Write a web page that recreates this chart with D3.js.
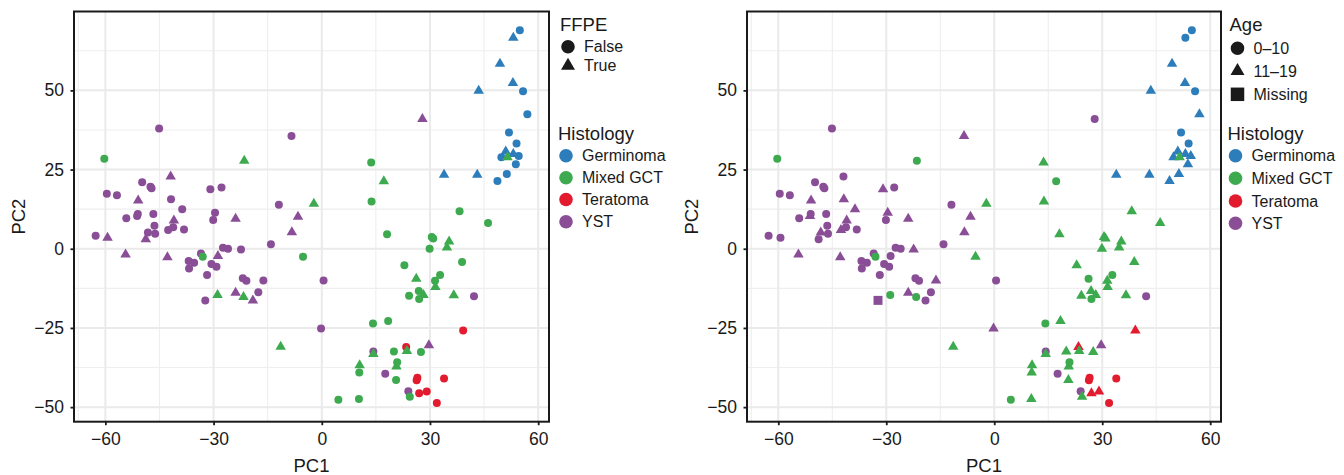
<!DOCTYPE html>
<html>
<head>
<meta charset="utf-8">
<script src="https://cdn.jsdelivr.net/npm/d3@7"></script>
<style>
body { margin: 0; background: #fff; }
text { font-family: "Liberation Sans", Arial, Helvetica, sans-serif; }
</style>
</head>
<body>
<svg id="chart" width="1344" height="475"></svg>
<script>
// PCA scores, one value per sample
var pc1 = [
  -45.1, -8.4, -60.3, -21.5, -41.9, -49.8, -47.5, -47.2, -59.6, -56.8,
  -30.9, -27.8, -50.9, -41.8, -38.7, -2.2, -11.9, -29.6, -30.1, -23.9,
  -6.6, -8.3, -54.2, -51.2, -51.0, -46.7, -41.0, -46.4, -48.2, -46.2,
  -48.8, -42.6, -41.2, -38.2, -62.7, -59.4, -54.4, -42.8, -27.4, -26.0,
  -22.4, -14.1, -5.2, -33.5, -33.0, -28.8, -36.9, -35.4, -36.8, -30.6,
  -29.2, -31.8, -21.9, -20.9, -16.2, 0.5, -28.9, -23.9, -21.7, -19.1,
  -17.6, -32.3,
  54.9, 53.1, 49.4, 53.0, 55.8, 43.5, 57.0, 27.9, 51.9, 54.0,
  51.0, 53.1, 49.8, 54.6, 53.8, 51.3, 48.7, 33.9, 43.1, 51.5,
  13.7, 17.2, 13.8,
  38.2, 46.1, 18.1, 30.5, 30.9, 35.3, 34.7, 29.9, 22.9, 38.9,
  26.2, 31.4, 32.8, 31.5, 26.9, 27.0, 24.2, 28.2, 36.6, 42.2,
  -0.2, 14.2, 18.4, 39.2, 23.4, 29.7, 14.3, 14.3, 20.0, 23.6,
  27.5, 20.9, 20.7, 10.5, 10.4, 17.6, 20.6, 26.5, 26.3, 33.9,
  24.0, 24.4, 27.0, 29.1, 31.9, 4.6, 10.3, -11.4
];
var pc2 = [
  38.0, 35.6, 28.4, 27.8, 22.8, 21.0, 19.6, 19.1, 17.4, 16.9,
  18.8, 19.3, 15.2, 15.6, 12.5, 14.2, 13.9, 11.4, 9.1, 9.5,
  10.1, 5.2, 9.6, 10.3, 11.0, 11.0, 8.9, 7.3, 5.1, 4.7,
  3.0, 5.9, 6.8, 6.1, 4.1, 3.5, -1.8, -2.7, 0.3, 0.0,
  -0.2, 1.4, -2.5, -1.5, -2.5, -2.3, -3.9, -4.4, -6.2, -4.8,
  -5.7, -8.3, -9.3, -10.1, -10.0, -10.0, -14.6, -13.9, -15.2, -16.3,
  -13.7, -16.3,
  69.0, 66.6, 58.4, 52.3, 49.7, 49.9, 42.5, 41.0, 36.7, 33.2,
  30.7, 29.9, 28.9, 29.3, 26.7, 23.6, 21.4, 23.4, 23.4, 28.9,
  27.2, 21.3, 14.9,
  11.8, 8.1, 4.6, 3.7, 3.2, 2.3, 0.4, 0.0, -5.2, -4.2,
  -9.5, -10.1, -8.3, -12.1, -13.3, -15.9, -14.8, -14.6, -14.7, -15.0,
  -25.2, -23.6, -22.8, -25.8, -31.0, -30.5, -32.4, -33.2, -32.4, -32.3,
  -32.6, -35.8, -37.2, -36.8, -39.1, -39.5, -41.4, -40.7, -41.5, -41.0,
  -45.0, -46.7, -45.6, -45.1, -48.7, -47.7, -47.4, -30.9
];
// G = Germinoma, M = Mixed GCT, T = Teratoma, Y = YST
var histology = [
  "Y","Y","M","M","Y","Y","Y","Y","Y","Y",
  "Y","Y","Y","Y","Y","M","Y","Y","Y","Y",
  "Y","Y","Y","Y","Y","Y","Y","Y","Y","Y",
  "Y","Y","Y","Y","Y","Y","Y","Y","Y","Y",
  "Y","Y","M","Y","M","Y","Y","Y","Y","Y",
  "Y","Y","Y","Y","Y","Y","M","Y","M","Y",
  "Y","Y",
  "G","G","G","G","G","G","G","Y","G","G",
  "G","G","G","G","G","G","G","G","G","M",
  "M","M","M",
  "M","M","M","M","M","M","M","M","M","M",
  "M","M","M","M","M","M","M","M","M","Y",
  "Y","M","M","T","T","Y","Y","M","M","M",
  "M","M","M","M","M","Y","M","T","T","T",
  "Y","M","T","T","T","M","M","M"
];
// F = False, T = True
var ffpe = [
  "F","F","F","T","T","F","F","F","F","F",
  "F","F","T","F","F","T","F","F","F","T",
  "T","T","F","F","F","F","T","F","F","F",
  "T","F","F","F","F","T","T","T","F","F",
  "F","F","F","F","F","T","F","F","F","F",
  "F","F","F","F","F","F","T","T","T","T",
  "F","F",
  "F","T","T","T","F","T","F","T","F","F",
  "T","T","F","F","F","F","F","T","T","T",
  "F","T","F",
  "F","F","F","F","F","T","T","F","F","F",
  "T","F","F","T","F","F","F","T","T","F",
  "F","F","F","F","F","T","F","T","F","T",
  "F","F","T","T","F","F","F","F","F","F",
  "F","F","F","F","F","F","F","T"
];
// A = 0-10, B = 11-19, M = missing
var age = [
  "A","B","A","A","A","A","A","A","A","A",
  "B","A","B","B","B","B","A","B","A","B",
  "B","B","A","B","A","A","B","A","B","A",
  "A","B","A","A","A","A","B","B","A","A",
  "B","A","B","A","A","A","A","A","A","A",
  "A","A","A","A","B","A","A","B","A","A",
  "A","M",
  "A","A","B","B","A","B","B","A","A","A",
  "B","B","B","B","B","B","B","B","B","B",
  "B","A","B",
  "B","B","B","B","B","B","B","B","B","B",
  "A","B","A","B","B","A","B","B","B","A",
  "B","A","B","B","B","B","A","B","B","B",
  "B","A","B","B","B","A","B","A","A","A",
  "A","B","B","B","A","A","B","B"
];

var histLevels = ["Germinoma", "Mixed GCT", "Teratoma", "YST"];
var histCodes = ["G", "M", "T", "Y"];
var histColors = ["#2D7DBB", "#3DAA4F", "#E31B2E", "#8A4E97"];
var ffpeLevels = ["False", "True"];
var ageLevels = ["0\u201310", "11\u201319", "Missing"];
var xTicks = [-60, -30, 0, 30, 60];
var yTicks = [-50, -25, 0, 25, 50];
var xMinor = [-67.5, -45, -15, 15, 45];
var yMinor = [-37.5, -12.5, 12.5, 37.5, 62.5];

var svg = d3.select("#chart");
var color = d3.scaleOrdinal().domain(histCodes).range(histColors);

function shapePath(kind, big) {
  if (kind == "circle") {
    var r = big ? 6.8 : 4;
    return d3.symbol(d3.symbolCircle, Math.PI * r * r)();
  }
  if (kind == "triangle") {
    var w = big ? 14 : 10.5, h = big ? 12 : 9;
    return "M0," + (-2 * h / 3) + "L" + (w / 2) + "," + (h / 3) + "L" + (-w / 2) + "," + (h / 3) + "Z";
  }
  var s = big ? 13.5 : 9;
  return "M" + (-s / 2) + "," + (-s / 2) + "h" + s + "v" + s + "h" + (-s) + "Z";
}

var samples = pc1.map(function (v, i) {
  return {x: v, y: pc2[i], hist: histology[i], ffpe: ffpe[i], age: age[i]};
});

function drawPanel(left, right, shapeOf, legend) {
  var top = 11.5, bottom = 421.7;
  var x = d3.scaleLinear().domain([-68.7, 63.0]).range([left, right]);
  var y = d3.scaleLinear().domain([-54.6, 74.9]).range([bottom, top]);
  var g = svg.append("g");

  // grid
  g.selectAll(".vminor").data(xMinor).enter().append("line")
    .attr("x1", x).attr("x2", x).attr("y1", top).attr("y2", bottom)
    .attr("stroke", "#EEEEEE").attr("stroke-width", 1.1);
  g.selectAll(".hminor").data(yMinor).enter().append("line")
    .attr("x1", left).attr("x2", right).attr("y1", y).attr("y2", y)
    .attr("stroke", "#EEEEEE").attr("stroke-width", 1.1);
  g.selectAll(".vmajor").data(xTicks).enter().append("line")
    .attr("x1", x).attr("x2", x).attr("y1", top).attr("y2", bottom)
    .attr("stroke", "#EAEAEA").attr("stroke-width", 2);
  g.selectAll(".hmajor").data(yTicks).enter().append("line")
    .attr("x1", left).attr("x2", right).attr("y1", y).attr("y2", y)
    .attr("stroke", "#EAEAEA").attr("stroke-width", 2);

  // points
  g.selectAll(".pt").data(samples).enter().append("path")
    .attr("d", function (d) { return shapePath(shapeOf(d), false); })
    .attr("transform", function (d) { return "translate(" + x(d.x) + "," + y(d.y) + ")"; })
    .attr("fill", function (d) { return color(d.hist); });

  // border
  g.append("rect").attr("x", left).attr("y", top)
    .attr("width", right - left).attr("height", bottom - top)
    .attr("fill", "none").attr("stroke", "#1a1a1a").attr("stroke-width", 2);

  var xAxis = g.append("g").attr("transform", "translate(0," + bottom + ")")
    .call(d3.axisBottom(x).tickValues(xTicks).tickSize(3.5).tickPadding(7.5));
  var yAxis = g.append("g").attr("transform", "translate(" + left + ",0)")
    .call(d3.axisLeft(y).tickValues(yTicks).tickSize(3.5).tickPadding(6.5));
  [xAxis, yAxis].forEach(function (a) {
    a.select(".domain").remove();
    a.selectAll(".tick line").attr("stroke", "#1a1a1a").attr("stroke-width", 1.8);
    a.selectAll(".tick text").attr("fill", "#1a1a1a")
      .style("font-size", "17.5px");
  });

  g.append("text").attr("x", (left + right) / 2).attr("y", 472)
    .attr("text-anchor", "middle").style("font-size", "18.5px").attr("fill", "#1a1a1a")
    .text("PC1");
  g.append("text").attr("transform", "translate(" + (left - 49) + "," + ((top + bottom) / 2) + ") rotate(-90)")
    .attr("text-anchor", "middle").style("font-size", "18.5px").attr("fill", "#1a1a1a")
    .text("PC2");

  // legend: shape
  var lg = svg.append("g");
  lg.append("text").attr("x", legend.x).attr("y", legend.shapeTitleY)
    .style("font-size", "18.5px").attr("fill", "#1a1a1a").text(legend.title);
  lg.selectAll(".sk").data(legend.labels).enter().append("path")
    .attr("d", function (d, i) { return shapePath(legend.shapes[i], true); })
    .attr("transform", function (d, i) { return "translate(" + (legend.x + 8) + "," + legend.shapeY[i] + ")"; })
    .attr("fill", "#1a1a1a");
  lg.selectAll(".sl").data(legend.labels).enter().append("text")
    .attr("x", legend.x + 24).attr("y", function (d, i) { return legend.shapeY[i]; })
    .attr("dy", "0.35em").style("font-size", "16px").attr("fill", "#1a1a1a")
    .text(function (d) { return d; });

  // legend: histology
  lg.append("text").attr("x", legend.x - 2).attr("y", 139.5)
    .style("font-size", "18.5px").attr("fill", "#1a1a1a").text("Histology");
  lg.selectAll(".hk").data(histLevels).enter().append("circle")
    .attr("cx", legend.x + 6).attr("cy", function (d, i) { return legend.histY[i]; })
    .attr("r", 6.8).attr("fill", function (d, i) { return histColors[i]; });
  lg.selectAll(".hl").data(histLevels).enter().append("text")
    .attr("x", legend.x + 22).attr("y", function (d, i) { return legend.histY[i]; })
    .attr("dy", "0.35em").style("font-size", "16px").attr("fill", "#1a1a1a")
    .text(function (d) { return d; });
}

drawPanel(74, 549,
  function (d) { return d.ffpe == "T" ? "triangle" : "circle"; },
  {x: 560, title: "FFPE", shapeTitleY: 31, labels: ffpeLevels,
   shapes: ["circle", "triangle"], shapeY: [46.7, 65.7],
   histY: [155.7, 177.7, 199.5, 221.7]});

drawPanel(747, 1221,
  function (d) { return d.age == "B" ? "triangle" : (d.age == "M" ? "square" : "circle"); },
  {x: 1229.5, title: "Age", shapeTitleY: 31, labels: ageLevels,
   shapes: ["circle", "triangle", "square"], shapeY: [48.3, 71, 94.3],
   histY: [155.7, 178.3, 201, 223.3]});
</script>
</body>
</html>
